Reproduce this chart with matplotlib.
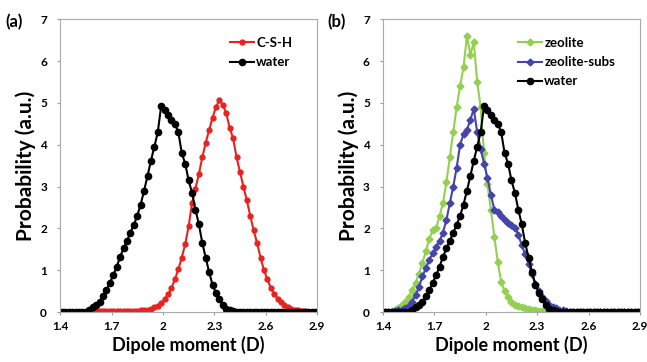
#!/usr/bin/env python3
import matplotlib
matplotlib.use("Agg")
import matplotlib.pyplot as plt
import numpy as np

plt.rcParams['font.family'] = ['Lato', 'DejaVu Sans']
plt.rcParams['font.weight'] = 'bold'

# dipole moment grid, 1.39 .. 2.91 step 0.02 (first/last point fall on the axis edges)
dipole = np.round(np.arange(1.39, 2.9101, 0.02), 2)

csh = [0, 0, 0, 0, 0, 0, 0, 0.01, 0.01, 0.01,
       0.02, 0.02, 0.02, 0.02, 0.02, 0.02, 0.02, 0.02, 0.03, 0.03,
       0.03, 0.03, 0.03, 0.03, 0.04, 0.05, 0.06, 0.08, 0.11, 0.15,
       0.21, 0.3, 0.42, 0.58, 0.78, 1.02, 1.3, 1.62, 2.05, 2.6,
       2.95, 3.3, 3.7, 4.05, 4.35, 4.65, 4.9, 5.07, 4.95, 4.75,
       4.4, 4.15, 3.7, 3.35, 3.0, 2.67, 2.3, 1.95, 1.65, 1.3,
       1.0, 0.78, 0.58, 0.43, 0.32, 0.23, 0.17, 0.12, 0.08, 0.05,
       0.04, 0.02, 0.02, 0.01, 0.01, 0, 0]

water = [0, 0, 0, 0, 0, 0, 0, 0, 0.01, 0.05,
         0.12, 0.17, 0.25, 0.38, 0.52, 0.7, 0.88, 1.08, 1.32, 1.52,
         1.7, 1.9, 2.08, 2.3, 2.57, 2.9, 3.25, 3.62, 3.95, 4.3,
         4.93, 4.83, 4.72, 4.6, 4.5, 4.3, 3.8, 3.55, 3.15, 2.85,
         2.45, 2.1, 1.65, 1.3, 0.95, 0.65, 0.45, 0.3, 0.16, 0.08,
         0.04, 0.02, 0.01, 0, 0, 0, 0, 0, 0, 0,
         0, 0, 0, 0, 0, 0, 0, 0, 0, 0,
         0, 0, 0, 0, 0, 0, 0]

zeolite = [0, 0, 0.01, 0.03, 0.06, 0.1, 0.16, 0.25, 0.37, 0.52,
           0.7, 0.92, 1.18, 1.45, 1.75, 1.95, 2.0, 2.3, 2.6, 3.1,
           3.7, 4.3, 4.9, 5.4, 5.85, 6.6, 6.15, 6.45, 5.5, 4.9,
           3.8, 3.05, 2.45, 1.8, 1.2, 0.72, 0.5, 0.35, 0.25, 0.18,
           0.14, 0.11, 0.09, 0.07, 0.05, 0.04, 0.03, 0.02, 0.01, 0,
           0, 0, 0, 0, 0, 0, 0, 0, 0, 0,
           0, 0, 0, 0, 0, 0, 0, 0, 0, 0,
           0, 0, 0, 0, 0, 0, 0]

zeolite_subs = [0, 0, 0, 0, 0.02, 0.04, 0.06, 0.1, 0.15, 0.25,
                0.4, 0.6, 0.85, 1.05, 1.25, 1.4, 1.55, 1.7, 1.9, 2.2,
                2.6, 3.0, 3.45, 4.0, 4.25, 4.35, 4.6, 4.85, 4.3, 3.9,
                3.55, 3.2, 2.8, 2.45, 2.38, 2.3, 2.2, 2.12, 2.08, 2.02,
                1.85, 1.6, 1.38, 1.15, 0.9, 0.68, 0.5, 0.36, 0.26, 0.18,
                0.12, 0.09, 0.06, 0.04, 0.02, 0.01, 0, 0, 0, 0,
                0, 0, 0, 0, 0, 0, 0, 0, 0, 0,
                0, 0, 0, 0, 0, 0, 0]

xticks = [1.4, 1.7, 2.0, 2.3, 2.6, 2.9]
xtick_labels = ["1.4", "1.7", "2", "2.3", "2.6", "2.9"]

fig = plt.figure(figsize=(6.47, 3.62), dpi=100)
ax1 = fig.add_axes([0.093, 0.138, 0.397, 0.809])
ax2 = fig.add_axes([0.592, 0.138, 0.397, 0.809])

ax1.plot(dipole, csh, color="#e8231f", marker="o", ms=3.5, lw=1.5, label="C-S-H")
ax1.plot(dipole, water, color="black", marker="o", ms=4.5, lw=1.5, label="water")

ax2.plot(dipole, zeolite, color="#92d050", marker="D", ms=3.5, lw=1.5, label="zeolite")
ax2.plot(dipole, zeolite_subs, color="#4444aa", marker="D", ms=3.5, lw=1.5, label="zeolite-subs")
ax2.plot(dipole, water, color="black", marker="o", ms=4.5, lw=1.5, label="water")

for ax, tag in [(ax1, "(a)"), (ax2, "(b)")]:
    ax.set_xlim(1.4, 2.9)
    ax.set_ylim(0, 7)
    ax.set_xticks(xticks)
    ax.set_xticklabels(xtick_labels)
    ax.set_yticks(range(8))
    ax.tick_params(labelsize=8.5, length=2.5, color="#999999", direction="out")
    ax.tick_params(axis="y", pad=7)
    ax.tick_params(axis="x", pad=4)
    for s in ax.spines.values():
        s.set_color("#aaaaaa")
        s.set_linewidth(0.8)
    for lab in ax.get_xticklabels() + ax.get_yticklabels():
        lab.set_fontweight("bold")
    ax.set_xlabel("Dipole moment (D)", fontsize=13, fontweight="bold", labelpad=3)
    ax.set_ylabel("Probability (a.u.)", fontsize=15, fontweight="bold", labelpad=3)
    ax.legend(loc="upper right", bbox_to_anchor=(0.95, 0.98), frameon=False,
              handlelength=1.8, handletextpad=0.2, labelspacing=0.55,
              prop={"weight": "bold", "size": 9.5})
    ax.text(-0.215, 0.99, tag, transform=ax.transAxes, fontsize=12, fontweight="bold",
            va="center", ha="left")

fig.savefig("out.png", dpi=100)
